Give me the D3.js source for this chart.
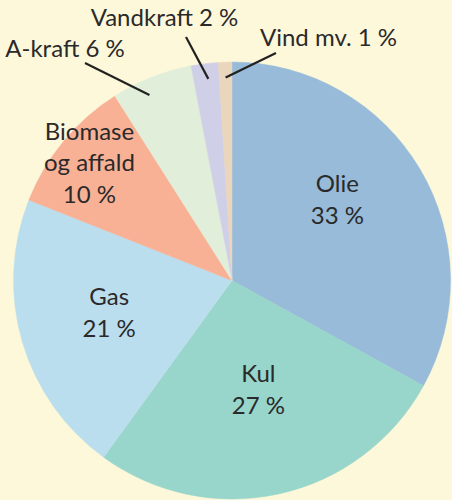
<!DOCTYPE html>
<html>
<head>
<meta charset="utf-8">
<script src="https://cdn.jsdelivr.net/npm/d3@7"></script>
<style>
  html, body { margin: 0; padding: 0; background: #fef8da; }
  svg text { font-family: Lato, "Noto Sans", sans-serif; fill: #2a2a2a; }
</style>
</head>
<body>
<div id="chart"></div>
<script>
// Data
const categories = ["Olie", "Kul", "Gas", "Biomase og affald", "A-kraft", "Vandkraft", "Vind mv."];
const shares = [33, 27, 21, 10, 6, 2, 1];
const sliceColors = ["#97bbd8", "#98d5cb", "#badeed", "#f9b196", "#e1eeda", "#d0cfe8", "#ead5bd"];

// Layout for labels inside slices: radius + small angle tweak (degrees)
const insideLabels = {
    "Olie": { r: 133, da: -7, lines: ["Olie"] },
    "Kul": { r: 112, da: -1, lines: ["Kul"] },
    "Gas": { r: 127, da: 1.5, lines: ["Gas"] },
    "Biomase og affald": { r: 185, da: 0, lines: ["Biomase", "og affald"] }
}
// Layout for callout labels outside the pie (relative to centre), da = angle tweak of the line end
const outsideLabels = {
    "A-kraft": { tx: -167, ty: -223.5, lx: -147, ly: -217.5, da: -2.4 },
    "Vandkraft": { tx: -67.5, ty: -254.5, lx: -46, ly: -243.5, da: 0.5 },
    "Vind mv.": { tx: 96.5, ty: -234.5, lx: 44, ly: -227.5, da: 0 }
}

const w = 452;
const h = 500;
const cx = 232;
const cy = 280.5;
const radius = 218.5;
const fontSize = 24;
const lineGap = 31.5;
const capH = 17;
const calloutR = 203;

const svg = d3.select("#chart")
    .append("svg")
    .attr("width", w)
    .attr("height", h)

svg.append("rect")
    .attr("width", w)
    .attr("height", h)
    .attr("fill", "#fef8da")

const data = categories.map((c, i) => ({ name: c, value: shares[i], color: sliceColors[i] }))

const pie = d3.pie()
    .value(d => d.value)
    .sort(null)
    .startAngle(0)
    .endAngle(2 * Math.PI)

const arc = d3.arc()
    .innerRadius(0)
    .outerRadius(radius)

const arcs = pie(data)

const g = svg.append("g")
    .attr("transform", "translate(" + cx + "," + cy + ")")

//Slices
g.selectAll("path")
    .data(arcs)
    .join("path")
    .attr("d", arc)
    .attr("fill", d => d.data.color)
    .attr("stroke", d => d.data.color)
    .attr("stroke-width", 0.5)

const fmt = v => v + " %"

//Labels inside the slices
arcs.filter(d => insideLabels[d.data.name]).forEach(d => {
    const lay = insideLabels[d.data.name]
    const a = (d.startAngle + d.endAngle) / 2 + lay.da * Math.PI / 180
    const x = lay.r * Math.sin(a)
    const y = -lay.r * Math.cos(a)
    const lines = lay.lines.concat([fmt(d.data.value)])
    const blockH = capH + (lines.length - 1) * lineGap
    const first = y - blockH / 2 + capH
    const t = g.append("text")
        .attr("text-anchor", "middle")
        .attr("font-size", fontSize)
    lines.forEach((l, i) => {
        t.append("tspan")
            .attr("x", x)
            .attr("y", first + i * lineGap)
            .text(l)
    })
})

//Callouts outside the pie
arcs.filter(d => outsideLabels[d.data.name]).forEach(d => {
    const lay = outsideLabels[d.data.name]
    const a = (d.startAngle + d.endAngle) / 2 + lay.da * Math.PI / 180
    g.append("line")
        .attr("x1", lay.lx)
        .attr("y1", lay.ly)
        .attr("x2", calloutR * Math.sin(a))
        .attr("y2", -calloutR * Math.cos(a))
        .attr("stroke", "#222")
        .attr("stroke-width", 2.2)
    g.append("text")
        .attr("x", lay.tx)
        .attr("y", lay.ty)
        .attr("text-anchor", "middle")
        .attr("font-size", fontSize)
        .text(d.data.name + " " + fmt(d.data.value))
})
</script>
</body>
</html>
